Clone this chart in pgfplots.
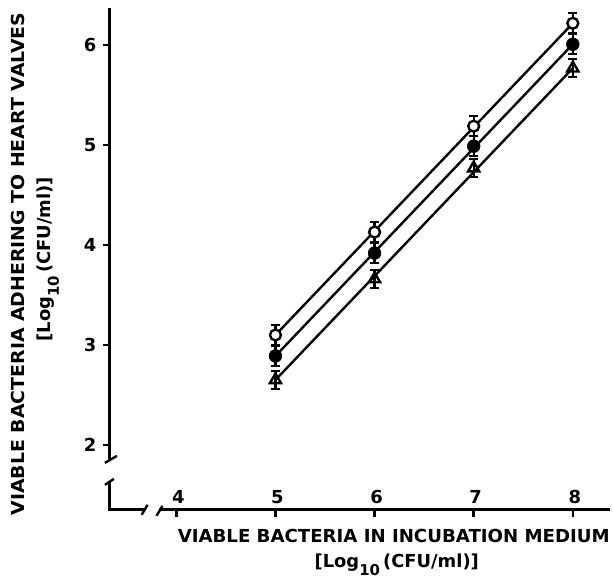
\documentclass[border=0pt]{standalone}
\usepackage{fontspec}
\setmainfont{DejaVu Sans}
\usepackage{graphicx}
\usepackage{pgfplots}
\usepackage{pgfplotstable}
\pgfplotsset{compat=1.18}

\pgfplotstableread{
x y e
5 3.10 0.10
6 4.13 0.10
7 5.19 0.10
8 6.22 0.10
}\opencirc
\pgfplotstableread{
x y e
5 2.89 0.10
6 3.92 0.10
7 4.99 0.10
8 6.01 0.10
}\filledcirc
\pgfplotstableread{
x y e
5 2.65 0.09
6 3.66 0.09
7 4.77 0.09
8 5.77 0.09
}\opentri

\newcommand{\lbl}{\fontsize{18}{20}\selectfont\bfseries}
\newcommand{\logunit}{\lbl [Log\raisebox{-8pt}{\fontsize{15}{15}\selectfont 10}\,(CFU/ml)]}

\begin{document}
\begin{tikzpicture}
\begin{axis}[
  scale only axis,
  width=503pt, height=504pt,
  xmin=3.33, xmax=8.38, ymin=1.35, ymax=6.37,
  axis x line*=bottom, axis y line*=left,
  axis line style={draw=none},
  xtick={4,5,6,7,8}, ytick={2,3,4,5,6},
  tick align=outside,
  major tick length=7pt,
  every tick/.style={black, line width=2.5pt},
  /pgf/number format/assume math mode=true,
  tick label style={font=\lbl},
  xticklabel style={anchor=south, yshift=10pt, xshift=2pt},
  yticklabel style={xshift=-3pt},
  clip=false,
]
% regression lines
\addplot[black, line width=2.4pt] coordinates {(5,3.10) (8,6.22)};
\addplot[black, line width=2.4pt] coordinates {(5,2.89) (8,6.01)};
\addplot[black, line width=2.4pt] coordinates {(5,2.65) (8,5.77)};
% points with error bars
\addplot[only marks, mark=*, mark size=5.5pt, mark options={fill=white, draw=black, line width=2.4pt},
  error bars/.cd, y dir=both, y explicit,
  error bar style={black, line width=2.2pt},
  error mark options={rotate=90, mark size=4.5pt, line width=2.2pt, black}]
  table[x=x, y=y, y error=e] {\opencirc};
\addplot[only marks, mark=*, mark size=6.5pt, mark options={fill=black, draw=black},
  error bars/.cd, y dir=both, y explicit,
  error bar style={black, line width=2.2pt},
  error mark options={rotate=90, mark size=4.5pt, line width=2.2pt, black}]
  table[x=x, y=y, y error=e] {\filledcirc};
\addplot[only marks, mark=triangle, mark size=6.5pt, mark options={fill=white, draw=black, line width=2.4pt},
  error bars/.cd, y dir=both, y explicit,
  error bar style={black, line width=2.2pt},
  error mark options={rotate=90, mark size=4.5pt, line width=2.2pt, black}]
  table[x=x, y=y, y error=e] {\opentri};
% broken axes
\draw[black, line width=3pt] (axis cs:3.33,6.37) -- (axis cs:3.33,1.86);
\draw[black, line width=2.4pt] ([shift={(-5pt,-4pt)}]axis cs:3.33,1.86) -- ([shift={(7pt,3pt)}]axis cs:3.33,1.86);
\draw[black, line width=3pt, line join=miter] (axis cs:3.33,1.63) -- (axis cs:3.33,1.35) -- (axis cs:3.68,1.35);
\draw[black, line width=2.4pt] ([shift={(-5pt,-3pt)}]axis cs:3.33,1.63) -- ([shift={(4pt,3pt)}]axis cs:3.33,1.63);
\draw[black, line width=2.4pt] ([shift={(-3pt,-5pt)}]axis cs:3.68,1.35) -- ([shift={(3pt,5pt)}]axis cs:3.68,1.35);
\draw[black, line width=3pt] (axis cs:3.83,1.35) -- (axis cs:8.38,1.35);
\draw[black, line width=2.4pt] ([shift={(-3pt,-6pt)}]axis cs:3.83,1.35) -- ([shift={(3pt,4pt)}]axis cs:3.83,1.35);
% labels
\node[rotate=90, anchor=center] at ([xshift=-92pt]rel axis cs:0,0.490)
  {\resizebox{505pt}{\height}{\lbl VIABLE BACTERIA ADHERING TO HEART VALVES}};
\node[rotate=90, anchor=center] at ([xshift=-62pt]rel axis cs:0,0.50) {\logunit};
\node[anchor=center] at ([yshift=-26pt]rel axis cs:0.567,0)
  {\resizebox{434pt}{\height}{\lbl VIABLE BACTERIA IN INCUBATION MEDIUM}};
\node[anchor=center] at ([yshift=-55pt]rel axis cs:0.573,0) {\logunit};
% bounding frame matching reference proportions
\path (axis cs:2.221,0.638) rectangle (axis cs:8.382,6.453);
\end{axis}
\end{tikzpicture}
\end{document}
